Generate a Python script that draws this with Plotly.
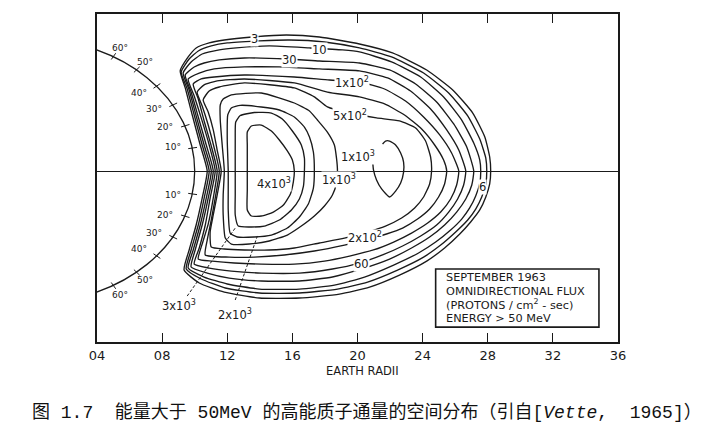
import numpy as np
import plotly.graph_objects as go

# ---------------- data (Earth radii) ----------------
x_tick_vals = [0.4, 0.8, 1.2, 1.6, 2.0, 2.4, 2.8, 3.2, 3.6]
x_tick_text = ["04", "08", "12", "16", "20", "24", "28", "32", "36"]
lat_deg = [10, 20, 30, 40, 50, 60]

# iso-flux contours (x: equatorial distance, y: along axis)
c3_x = [1.077, 1.034, 0.985, 0.942, 0.911, 0.960, 1.009, 1.089, 1.182, 1.354, 1.563, 1.766, 2.012, 2.215, 2.425,
        2.585, 2.708, 2.782, 2.812, 2.818,
        2.812, 2.788, 2.751, 2.695, 2.628, 2.535, 2.425, 2.258, 2.074, 1.889, 1.643, 1.397, 1.182, 1.028, 0.935,
        0.966, 1.009, 1.046, 1.077]
c3_y = [0, 0.197, 0.424, 0.629, 0.758, 0.864, 0.932, 0.970, 0.992, 1.015, 1.030, 1.015, 0.962, 0.894, 0.765,
        0.614, 0.439, 0.258, 0.106, 0,
        -0.098, -0.197, -0.295, -0.386, -0.477, -0.583, -0.682, -0.788, -0.879, -0.932, -0.962, -0.962, -0.917,
        -0.848, -0.750, -0.598, -0.409, -0.205, 0]

c6_x = [1.089, 1.046, 0.997, 0.954, 0.917, 0.966, 1.022, 1.102, 1.200, 1.397, 1.582, 1.797, 2.012, 2.209, 2.406,
        2.560, 2.677, 2.751, 2.788, 2.794,
        2.788, 2.763, 2.726, 2.677, 2.603, 2.511, 2.406, 2.246, 2.062, 1.877, 1.643, 1.397, 1.188, 1.040, 0.948,
        0.978, 1.022, 1.058, 1.089]
c6_y = [0, 0.197, 0.424, 0.621, 0.750, 0.848, 0.909, 0.947, 0.970, 0.985, 0.992, 0.977, 0.932, 0.864, 0.742,
        0.591, 0.417, 0.242, 0.098, 0,
        -0.098, -0.197, -0.288, -0.371, -0.462, -0.561, -0.652, -0.750, -0.841, -0.894, -0.924, -0.924, -0.886,
        -0.818, -0.742, -0.598, -0.409, -0.205, 0]

c10_x = [1.102, 1.058, 1.009, 0.966, 0.929, 0.978, 1.046, 1.151, 1.255, 1.458, 1.705, 1.908, 2.012, 2.209, 2.388,
         2.529, 2.640, 2.714, 2.751, 2.757,
         2.751, 2.726, 2.689, 2.640, 2.572, 2.480, 2.375, 2.222, 2.043, 1.858, 1.643, 1.397, 1.200, 1.058, 0.960,
         0.991, 1.034, 1.071, 1.102]
c10_y = [0, 0.197, 0.417, 0.614, 0.742, 0.826, 0.886, 0.917, 0.932, 0.947, 0.932, 0.917, 0.902, 0.826, 0.712,
         0.561, 0.386, 0.212, 0.083, 0,
         -0.091, -0.189, -0.280, -0.364, -0.447, -0.538, -0.621, -0.712, -0.803, -0.864, -0.894, -0.894, -0.856,
         -0.803, -0.735, -0.598, -0.409, -0.205, 0]

c30_x = [1.114, 1.071, 1.022, 0.978, 0.942, 0.997, 1.058, 1.151, 1.305, 1.569, 1.766, 2.012, 2.197, 2.357, 2.486,
         2.591, 2.671, 2.714,
         2.702, 2.665, 2.609, 2.535, 2.443, 2.332, 2.197, 2.025, 1.846, 1.643, 1.409, 1.212, 1.077, 0.978,
         1.003, 1.046, 1.083, 1.114]
c30_y = [0, 0.197, 0.409, 0.598, 0.727, 0.788, 0.818, 0.841, 0.856, 0.848, 0.833, 0.818, 0.765, 0.659, 0.523,
         0.356, 0.182, 0,
         -0.106, -0.212, -0.311, -0.409, -0.500, -0.583, -0.667, -0.742, -0.803, -0.833, -0.833, -0.811, -0.773,
         -0.727, -0.598, -0.409, -0.205, 0]

c60_x = [1.126, 1.089, 1.040, 0.997, 0.960, 1.028, 1.120, 1.305, 1.520, 1.766, 2.012, 2.185, 2.326, 2.449, 2.548,
         2.622, 2.665,
         2.652, 2.615, 2.560, 2.486, 2.388, 2.277, 2.154, 2.012, 1.846, 1.643, 1.409, 1.225, 1.089, 0.997,
         1.028, 1.065, 1.095, 1.126]
c60_y = [0, 0.197, 0.402, 0.568, 0.697, 0.742, 0.773, 0.788, 0.788, 0.773, 0.758, 0.705, 0.606, 0.470, 0.311,
         0.159, 0,
         -0.106, -0.212, -0.311, -0.409, -0.492, -0.568, -0.636, -0.697, -0.742, -0.773, -0.773, -0.758, -0.735,
         -0.705, -0.583, -0.409, -0.205, 0]

c100_x = [1.138, 1.102, 1.058, 1.022, 0.991, 1.040, 1.120, 1.305, 1.612, 1.828, 2.012, 2.166, 2.295, 2.406, 2.505,
          2.578, 2.622,
          2.609, 2.572, 2.511, 2.431, 2.332, 2.222, 2.098, 1.951, 1.797, 1.612, 1.409, 1.243, 1.108, 1.022,
          1.046, 1.083, 1.114, 1.138]
c100_y = [0, 0.189, 0.379, 0.545, 0.659, 0.697, 0.712, 0.727, 0.712, 0.689, 0.674, 0.621, 0.530, 0.409, 0.273,
          0.136, 0,
          -0.106, -0.212, -0.311, -0.394, -0.470, -0.538, -0.598, -0.644, -0.682, -0.705, -0.705, -0.697, -0.682,
          -0.667, -0.553, -0.402, -0.205, 0]

c200_x = [1.151, 1.120, 1.083, 1.046, 1.015, 1.058, 1.138, 1.305, 1.612, 1.815, 2.012, 2.166, 2.289, 2.394, 2.474,
          2.529, 2.548,
          2.535, 2.498, 2.443, 2.369, 2.277, 2.178, 2.074, 1.920, 1.735, 1.551, 1.366, 1.212, 1.065,
          1.077, 1.102, 1.126, 1.151]
c200_y = [0, 0.174, 0.348, 0.492, 0.598, 0.652, 0.682, 0.697, 0.667, 0.598, 0.561, 0.508, 0.424, 0.318, 0.197,
          0.083, 0,
          -0.098, -0.197, -0.288, -0.364, -0.432, -0.477, -0.515, -0.561, -0.606, -0.636, -0.652, -0.652, -0.636,
          -0.523, -0.371, -0.205, 0]

c500_x = [1.163, 1.138, 1.114, 1.083, 1.052, 1.089, 1.151, 1.305, 1.612, 1.735, 1.815, 1.951, 2.117, 2.258, 2.357,
          2.418, 2.449, 2.455,
          2.443, 2.406, 2.351, 2.271, 2.172, 2.062, 1.920, 1.766, 1.612, 1.458, 1.305, 1.182, 1.102,
          1.095, 1.114, 1.138, 1.163]
c500_y = [0, 0.159, 0.311, 0.447, 0.538, 0.606, 0.636, 0.667, 0.629, 0.561, 0.485, 0.439, 0.402, 0.379, 0.326,
          0.227, 0.106, 0,
          -0.098, -0.197, -0.280, -0.356, -0.417, -0.462, -0.508, -0.545, -0.583, -0.598, -0.598, -0.591, -0.576,
          -0.462, -0.333, -0.182, 0]

c1000_x = [1.182, 1.169, 1.157, 1.157, 1.175, 1.225, 1.409, 1.612, 1.705, 1.754, 1.815, 1.858, 1.871, 1.877,
           1.871, 1.846, 1.797, 1.735, 1.655, 1.569, 1.458, 1.335, 1.225, 1.188, 1.175, 1.175, 1.182]
c1000_y = [0, 0.197, 0.386, 0.500, 0.545, 0.576, 0.591, 0.515, 0.455, 0.386, 0.295, 0.197, 0.098, 0,
           -0.091, -0.182, -0.265, -0.341, -0.417, -0.485, -0.530, -0.553, -0.553, -0.508, -0.333, -0.182, 0]

c1000b_x = [2.092, 2.098, 2.117, 2.148, 2.197, 2.234, 2.265, 2.283, 2.283, 2.265, 2.234, 2.197, 2.172, 2.154]
c1000b_y = [0.098, 0.008, -0.068, -0.136, -0.197, -0.152, -0.091, -0.008, 0.068, 0.136, 0.197, 0.227, 0.227, 0.205]

c2000_x = [1.206, 1.200, 1.203, 1.225, 1.280, 1.409, 1.520, 1.612, 1.674, 1.705, 1.729, 1.735,
           1.729, 1.698, 1.643, 1.569, 1.471, 1.366, 1.262, 1.218, 1.206, 1.206, 1.206]
c2000_y = [0, 0.235, 0.424, 0.477, 0.497, 0.485, 0.462, 0.409, 0.333, 0.258, 0.144, 0,
           -0.129, -0.250, -0.348, -0.432, -0.485, -0.500, -0.500, -0.470, -0.295, -0.144, 0]

c3000_x = [1.249, 1.249, 1.252, 1.280, 1.366, 1.471, 1.538, 1.600, 1.655, 1.674, 1.674,
           1.668, 1.643, 1.594, 1.520, 1.428, 1.335, 1.268, 1.249, 1.249, 1.249]
c3000_y = [0, 0.235, 0.371, 0.420, 0.443, 0.439, 0.394, 0.303, 0.197, 0.098, 0,
           -0.114, -0.212, -0.295, -0.371, -0.417, -0.424, -0.417, -0.333, -0.182, 0]

c4000_x = [1.323, 1.323, 1.323, 1.348, 1.409, 1.471, 1.520, 1.569, 1.600, 1.612,
           1.606, 1.588, 1.545, 1.483, 1.409, 1.348, 1.323, 1.323, 1.323]
c4000_y = [0, 0.197, 0.295, 0.341, 0.348, 0.303, 0.235, 0.152, 0.083, 0,
           -0.083, -0.174, -0.258, -0.311, -0.341, -0.341, -0.295, -0.144, 0]

# ---------------- figure ----------------
INK = "#1a1a1a"
fig = go.Figure()

curves = [(c3_x, c3_y), (c6_x, c6_y), (c10_x, c10_y), (c30_x, c30_y), (c60_x, c60_y),
          (c100_x, c100_y), (c200_x, c200_y), (c500_x, c500_y), (c1000_x, c1000_y),
          (c1000b_x, c1000b_y), (c2000_x, c2000_y), (c3000_x, c3000_y), (c4000_x, c4000_y)]
for xs, ys in curves:
    fig.add_trace(go.Scatter(x=xs, y=ys, mode="lines",
                             line=dict(color=INK, width=1.35, shape="spline", smoothing=0.5),
                             hoverinfo="skip", showlegend=False))

# dashed leader lines for 3x10^3 and 2x10^3
fig.add_trace(go.Scatter(x=[0.954, 1.249, None, 1.249, 1.385], y=[-0.947, -0.432, None, -0.977, -0.492],
                         mode="lines", line=dict(color=INK, width=1, dash="3px,2px"),
                         hoverinfo="skip", showlegend=False))

# Earth surface arc
fig.add_shape(type="circle", xref="x", yref="y", x0=-1, y0=-1, x1=1, y1=1,
              line=dict(color=INK, width=1.3), layer="above")

# latitude tick marks
lat = np.array(lat_deg, dtype=float)
tx, ty = [], []
for sgn in (1, -1):
    for a in np.radians(sgn * lat):
        tx += [0.975 * np.cos(a), 1.03 * np.cos(a), None]
        ty += [0.975 * np.sin(a), 1.03 * np.sin(a), None]
fig.add_trace(go.Scatter(x=tx, y=ty, mode="lines", line=dict(color=INK, width=1),
                         hoverinfo="skip", showlegend=False))

annots = []
for sgn in (1, -1):
    for d in lat_deg:
        r = 0.885 if d <= 40 else 1.08
        a = np.radians(sgn * (d + (2 if d <= 40 else 0)))
        annots.append(dict(x=r * np.cos(a), y=r * np.sin(a), text=f"{d}°", showarrow=False,
                           font=dict(family="DejaVu Sans", size=9, color=INK)))

lab_font = dict(family="DejaVu Sans", size=11.5, color=INK)
contour_labels = [
    (1.366, 1.000, "3"), (1.766, 0.917, "10"), (1.582, 0.841, "30"),
    (1.969, 0.674, "1x10<sup>2</sup>"), (1.951, 0.424, "5x10<sup>2</sup>"),
    (2.000, 0.110, "1x10<sup>3</sup>"), (1.489, -0.091, "4x10<sup>3</sup>"),
    (1.889, -0.068, "1x10<sup>3</sup>"), (2.043, -0.500, "2x10<sup>2</sup>"),
    (2.025, -0.705, "60"), (2.769, -0.121, "6"),
    (0.905, -1.015, "3x10<sup>3</sup>"), (1.249, -1.083, "2x10<sup>3</sup>"),
]
for x, y, t in contour_labels:
    annots.append(dict(x=x, y=y, text=t, showarrow=False, font=lab_font,
                       bgcolor="white", borderpad=0))

# info box
fig.add_shape(type="rect", xref="x", yref="y", x0=2.48, x1=3.483, y0=-1.182, y1=-0.742,
              line=dict(color=INK, width=1.6), fillcolor="white", layer="above")
box_lines = ["SEPTEMBER 1963", "OMNIDIRECTIONAL FLUX", "(PROTONS / cm<sup>2</sup> - sec)", "ENERGY &gt; 50 MeV"]
box_y = [-0.808, -0.913, -1.012, -1.117]
for t, yy in zip(box_lines, box_y):
    annots.append(dict(x=2.53, y=yy, text=t, showarrow=False,
                       xanchor="left", yanchor="middle",
                       font=dict(family="DejaVu Sans", size=11.3, color=INK)))

# axis title
annots.append(dict(xref="paper", yref="paper", x=0.509, y=-0.087, yanchor="middle", text="EARTH RADII",
                   showarrow=False, font=dict(family="DejaVu Sans", size=11.5, color=INK)))
# caption
mono = "<span style=\"font-family:'Liberation Mono'\">{}</span>"
caption = ("图" + mono.format(" 1.7  ") + "能量大于" + mono.format(" 50MeV ") +
           "的高能质子通量的空间分布（引自" + mono.format("[<i>Vette</i>,  1965]") + "）")
annots.append(dict(xref="paper", yref="paper", x=-0.129, y=-0.207, xanchor="left", yanchor="middle",
                   text=caption, showarrow=False,
                   font=dict(family="Noto Sans CJK SC", size=18, color="#111")))

fig.update_layout(width=706, height=430, margin=dict(l=97, r=88, t=14, b=88),
                  paper_bgcolor="white", plot_bgcolor="white", showlegend=False,
                  annotations=annots)
fig.update_xaxes(range=[0.4, 3.6], tickvals=x_tick_vals, ticktext=x_tick_text, ticks="inside",
                 ticklen=9, tickwidth=1.2, tickcolor=INK, mirror="ticks", showline=True,
                 linecolor=INK, linewidth=2, showgrid=False, zeroline=False,
                 tickfont=dict(family="DejaVu Sans", size=13, color=INK))
fig.update_yaxes(range=[-1.295, 1.189], showticklabels=False, ticks="", showline=True, mirror=True,
                 linecolor=INK, linewidth=2, showgrid=False, zeroline=True, zerolinecolor=INK,
                 zerolinewidth=1.2)

fig.write_html("out.html")
